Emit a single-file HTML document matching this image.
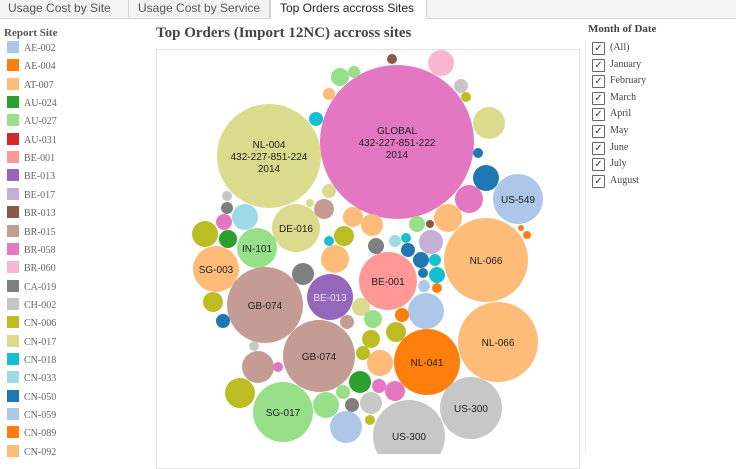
<!DOCTYPE html>
<html><head><meta charset="utf-8">
<style>
html,body{margin:0;padding:0;width:736px;height:454px;overflow:hidden;background:#fff;font-family:"Liberation Sans",sans-serif;}
.tabs{position:absolute;left:0;top:0;width:736px;height:18px;border-bottom:1px solid #d4d4d4;background:#f3f3f3;}
.tab{position:absolute;top:0;height:17px;font-size:12px;line-height:17px;color:#555;border-right:1px solid #d0d0d0;padding:0 6px;box-sizing:border-box;}
.tab.active{background:#fff;color:#222;height:19px;border-left:1px solid #d0d0d0;}
.ltitle{position:absolute;left:4px;top:27px;font:bold 11px "Liberation Serif",serif;color:#555;}
.lrow{position:absolute;left:7px;height:13px;}
.sw{position:absolute;left:0;top:0;width:12px;height:12px;}
.lt{position:absolute;left:17px;top:2px;font:10px "Liberation Serif",serif;color:#666;white-space:nowrap;}
.title{position:absolute;left:156px;top:25px;font:bold 15px "Liberation Serif",serif;color:#444;}
.frame{position:absolute;left:156px;top:49px;width:424px;height:420px;border:1px solid #e2e2e2;box-sizing:border-box;}
.ftitle{position:absolute;left:588px;top:23px;font:bold 11px "Liberation Serif",serif;color:#444;}
.frow{position:absolute;left:592px;height:13px;}
.cb{position:absolute;left:0;top:0;width:11px;height:11px;border:1px solid #666;border-radius:1px;font-size:10px;line-height:11px;text-align:center;color:#333;}
.ft{position:absolute;left:18px;top:0;font:10px "Liberation Serif",serif;color:#444;white-space:nowrap;}
.vline{position:absolute;left:585px;top:40px;width:1px;height:414px;background:#eee;}
</style></head><body>
<div class="tabs">
<div class="tab" style="left:0;width:129px;padding-left:8px">Usage Cost by Site</div>
<div class="tab" style="left:129px;width:141px;padding-left:9px">Usage Cost by Service</div>
<div class="tab active" style="left:270px;width:157px;padding-left:9px">Top Orders accross Sites</div>
</div>
<div class="ltitle">Report Site</div>
<div id="legend"></div>
<div class="title">Top Orders (Import 12NC) accross sites</div>
<div class="frame"></div>
<svg id="chart" width="736" height="454" style="position:absolute;left:0;top:0"></svg>
<div class="vline"></div>
<div class="ftitle">Month of Date</div>
<div id="filter"></div>
<script>
const legendSites=["AE-002","AE-004","AT-007","AU-024","AU-027","AU-031","BE-001","BE-013","BE-017","BR-013","BR-015","BR-058","BR-060","CA-019","CH-002","CN-006","CN-017","CN-018","CN-033","CN-050","CN-059","CN-089","CN-092"];
const palette=["#aec7e8","#ff7f0e","#ffbb78","#2ca02c","#98df8a","#d62728","#ff9896","#9467bd","#c5b0d5","#8c564b","#c49c94","#e377c2","#f7b6d2","#7f7f7f","#c7c7c7","#bcbd22","#dbdb8d","#17becf","#9edae5","#1f77b4"];
const months=["(All)","January","February","March","April","May","June","July","August"];
// bubble data: color key (palette index), value, label
const bubbleColor=[11,16,0,2,2,1,14,14,6,7,10,10,4,2,4,16,0,
12,9,4,4,2,17,14,15,16,19,11,19,14,13,18,11,15,3,10,16,2,2,15,13,17,2,13,8,4,2,9,19,19,19,17,17,1,0,18,17,15,19,1,16,4,10,15,15,15,2,10,14,11,3,11,11,15,4,4,14,13,0,15,1,1,16];
const bubbleValue=[5929,2704,625,1764,1600,1089,961,1296,841,529,1444,1296,900,529,400,576,324,
169,25,81,36,36,49,49,25,256,169,196,25,25,36,169,64,169,81,100,49,100,121,100,64,25,196,121,144,64,196,16,49,64,25,36,64,25,36,36,25,100,49,49,81,81,49,100,81,49,169,256,25,25,121,49,100,225,169,49,121,49,256,25,9,16,16];
const bubbleLabel=["GLOBAL\n432-227-851-222\n2014","NL-004\n432-227-851-224\n2014","US-549","NL-066","NL-066","NL-041","US-300","US-300","BE-001","BE-013","GB-074","GB-074","SG-017","SG-003","IN-101","DE-016","",
"","","","","","","","","","","","","","","","","","","","","","","","","","","","","","","","","","","","","","","","","","","","","","","","","","","","","","","","","","","","","","","","","",""];
// layout (pixel centers) for packed bubbles
const layoutX=[397,269,518,486,498,427,471,409,388,330,265,319,283,216,257,296,426,
441,392,340,354,329,316,461,466,489,486,469,478,227,227,245,224,205,228,324,329,353,372,344,376,329,335,303,431,417,448,430,408,421,423,435,437,437,424,395,406,213,223,402,361,373,347,396,371,363,380,258,254,278,360,379,395,240,326,343,371,352,346,370,521,527,310];
const layoutY=[142,156,199,260,342,362,408,436,281,297,305,356,412,269,248,228,311,
63,59,77,72,94,119,86,97,123,178,199,153,196,208,217,222,234,239,209,191,217,225,236,246,241,259,274,242,224,218,224,250,260,273,260,275,288,286,241,238,302,321,315,307,319,322,332,339,353,363,367,346,367,382,386,391,393,405,392,403,405,427,420,228,235,203];
const svg=document.getElementById('chart');
const NS='http://www.w3.org/2000/svg';
function rScale(v){return Math.sqrt(v);}
for(let i=0;i<bubbleValue.length;i++){
  const c=document.createElementNS(NS,'circle');
  
  
  c.setAttribute('cx',layoutX[i]);c.setAttribute('cy',layoutY[i]);
  c.setAttribute('r',rScale(bubbleValue[i]));
  c.setAttribute('fill',palette[bubbleColor[i]]);
  svg.appendChild(c);
  const lines=bubbleLabel[i]?bubbleLabel[i].split('\n'):[];
  lines.forEach((ln,k)=>{
    const t=document.createElementNS(NS,'text');
    
    
    t.setAttribute('x',layoutX[i]);
    t.setAttribute('y',layoutY[i]+4+(k-(lines.length-1)/2)*12);
    t.setAttribute('text-anchor','middle');
    t.setAttribute('font-family','Liberation Sans, sans-serif');
    t.setAttribute('font-size','10');
    t.setAttribute('fill',bubbleColor[i]===7?'#e8e0f5':'#222');
    t.textContent=ln;
    svg.appendChild(t);
  });
}
const leg=document.getElementById('legend');
legendSites.forEach((s,i)=>{
  const d=document.createElement('div');
  d.className='lrow';
  d.style.top=(41+i*18.35)+'px';
  
  
  d.innerHTML='<div class="sw" style="background:'+palette[i%20]+'"></div><div class="lt">'+s+'</div>';
  leg.appendChild(d);
});
const fl=document.getElementById('filter');
months.forEach((m,i)=>{
  const d=document.createElement('div');
  d.className='frow';
  d.style.top=(42+i*16.6)+'px';
  
  
  d.innerHTML='<div class="cb">&#10003;</div><div class="ft">'+m+'</div>';
  fl.appendChild(d);
});
</script>
</body></html>
